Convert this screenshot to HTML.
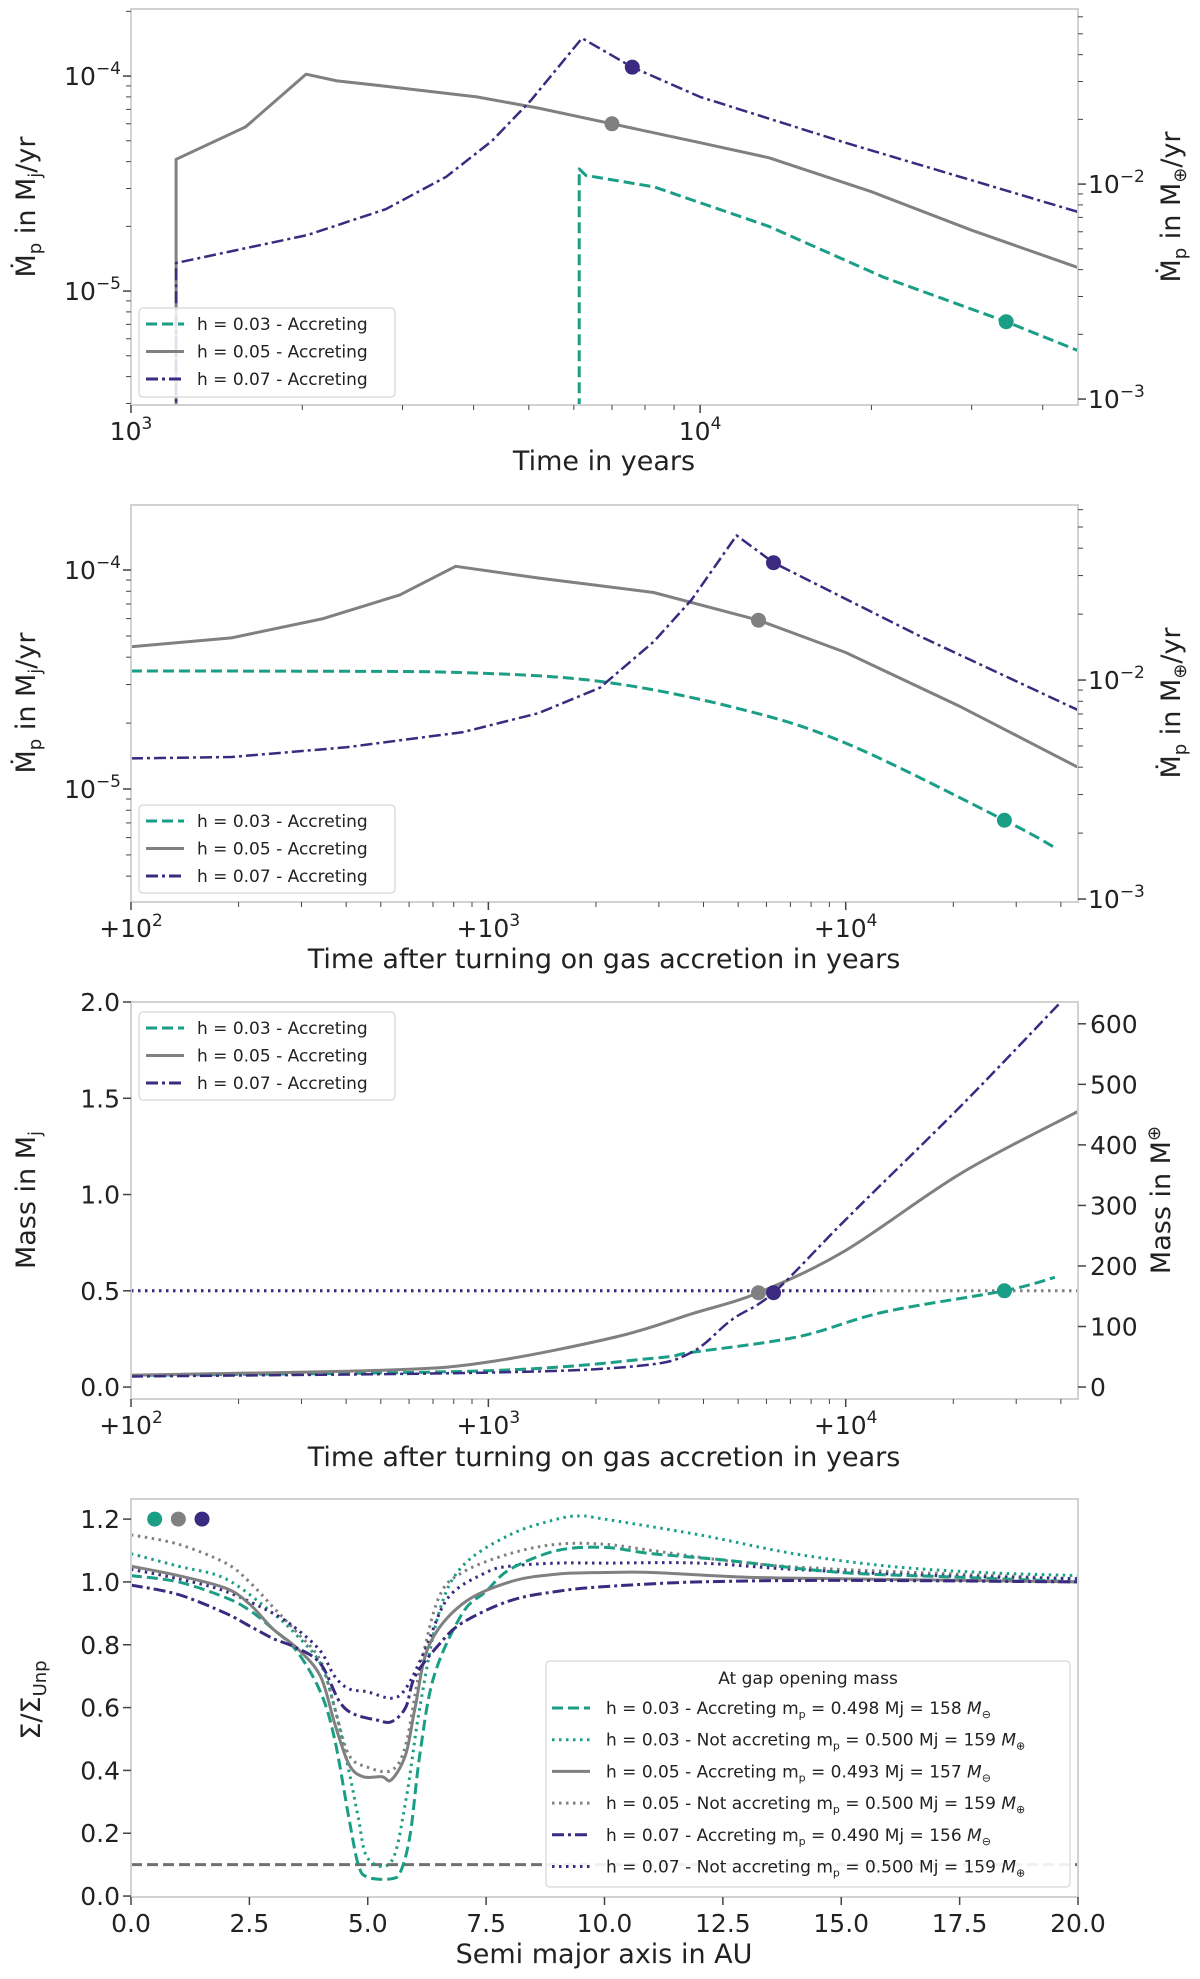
<!DOCTYPE html>
<html><head><meta charset="utf-8"><style>
html,body{margin:0;padding:0;background:#fff}
svg{display:block}
text{font-family:"DejaVu Sans","Liberation Sans",sans-serif;fill:#222}
</style></head><body>
<svg id="fig" width="1200" height="1979" viewBox="0 0 1200 1979" xmlns="http://www.w3.org/2000/svg"></svg>
<script>
const GREEN="#1b9e86", GREY="#808080", BLUE="#3a2b80";
const ME=318;
// ---- Panel 1: absolute time ----
const p1_grey_t=[1200,1200,1590,2030,2300,2800,4050,5200,7000,10000,13200,20000,30000,46000];
const p1_grey_v=[2e-6,4.1e-5,5.8e-5,1.02e-4,9.5e-5,8.97e-5,8.0e-5,7.1e-5,6.0e-5,4.9e-5,4.17e-5,2.9e-5,1.92e-5,1.29e-5];
const p1_blue_t=[1200,1200,2040,2800,3580,4310,5040,6200,7600,10000,18000,46000];
const p1_blue_v=[2e-6,1.35e-5,1.82e-5,2.4e-5,3.4e-5,5.0e-5,7.7e-5,1.5e-4,1.1e-4,8.0e-5,4.9e-5,2.34e-5];
const p1_green_t=[6130,6130,6300,8300,13200,21000,34500,46000];
const p1_green_v=[2e-6,3.7e-5,3.45e-5,3.05e-5,2.0e-5,1.16e-5,7.2e-6,5.3e-6];
const p1_dots_t=[34500,7000,7600];
const p1_dots_v=[7.2e-6,6.0e-5,1.1e-4];
// ---- Panel 2: time after accretion ----
const p2_grey_t=[100,191,345,565,810,1380,2900,5700,10000,21000,44500];
const p2_grey_v=[4.46e-5,4.9e-5,6.0e-5,7.7e-5,1.04e-4,9.2e-5,7.9e-5,5.9e-5,4.2e-5,2.37e-5,1.26e-5];
const p2_green_t=[100,300,850,2050,4800,10000,27800,38500];
const p2_green_v=[3.46e-5,3.45e-5,3.4e-5,3.1e-5,2.37e-5,1.62e-5,7.2e-6,5.4e-6];
const p2_blue_t=[100,191,400,850,1380,2050,2900,3700,4950,6280,16500,44500];
const p2_blue_v=[1.38e-5,1.4e-5,1.55e-5,1.82e-5,2.22e-5,2.9e-5,4.7e-5,7.3e-5,1.44e-4,1.08e-4,4.9e-5,2.3e-5];
const p2_dots_t=[27800,5700,6280];
const p2_dots_v=[7.2e-6,5.9e-5,1.08e-4];
// ---- Panel 3: mass ----
const p3_grey_t=[100,515,1000,2270,3700,5700,10000,21000,44500];
const p3_grey_v=[0.062,0.088,0.13,0.26,0.38,0.49,0.71,1.11,1.43];
const p3_green_t=[100,1000,2900,3700,7300,12800,27800,38500];
const p3_green_v=[0.06,0.085,0.15,0.18,0.26,0.39,0.50,0.57];
const p3_blue_t=[100,1000,2630,3700,4800,6280,10000,21000,40000];
const p3_blue_v=[0.055,0.075,0.11,0.18,0.35,0.49,0.87,1.46,2.0];
const p3_dots_t=[27800,5700,6280];
const p3_dots_v=[0.5,0.49,0.49];
const p3_gap_mass=0.5;
// ---- Panel 4: surface density ----
const p4_green_acc_a=[0,1,2,2.5,3,3.5,4,4.3,4.6,4.8,5.0,5.5,5.7,5.9,6.1,6.4,7,7.5,8,9,10,11,12.5,15,17.5,20];
const p4_green_acc_v=[1.02,1.0,0.95,0.91,0.85,0.78,0.65,0.5,0.25,0.1,0.06,0.055,0.08,0.2,0.45,0.7,0.9,0.97,1.04,1.1,1.11,1.09,1.07,1.03,1.015,1.0];
const p4_green_not_a=[0,1,2,3,3.5,4,4.3,4.6,4.8,5.0,5.5,5.8,6.1,6.5,7,8,9,9.5,10,12,14,16,18,20];
const p4_green_not_v=[1.09,1.05,1.01,0.9,0.83,0.74,0.6,0.4,0.25,0.12,0.11,0.3,0.6,0.9,1.05,1.15,1.2,1.21,1.2,1.15,1.09,1.05,1.03,1.02];
const p4_grey_acc_a=[0,1,2,2.5,3,3.5,4,4.3,4.6,4.9,5.3,5.5,5.8,6,6.3,7,8,9,10,11,13,15,20];
const p4_grey_acc_v=[1.05,1.02,0.98,0.93,0.85,0.79,0.7,0.55,0.42,0.38,0.38,0.37,0.45,0.6,0.8,0.93,1.0,1.025,1.03,1.03,1.015,1.01,1.0];
const p4_grey_not_a=[0,1,2,2.5,3,3.5,4,4.3,4.6,5,5.5,5.8,6.1,6.5,7,8,9,10,11,13,15,20];
const p4_grey_not_v=[1.15,1.12,1.06,1.0,0.92,0.84,0.75,0.6,0.45,0.41,0.4,0.48,0.72,0.95,1.03,1.09,1.12,1.12,1.1,1.06,1.04,1.01];
const p4_blue_acc_a=[0,1,2,2.5,3,3.5,4,4.4,4.7,5.2,5.5,5.8,6,6.5,7,8,9,10,12,15,20];
const p4_blue_acc_v=[0.99,0.96,0.9,0.86,0.82,0.79,0.74,0.62,0.58,0.56,0.555,0.6,0.7,0.8,0.87,0.94,0.97,0.985,1.0,1.005,1.0];
const p4_blue_not_a=[0,1,2,3,3.5,4,4.3,4.6,5,5.5,5.8,6.2,6.7,7.5,8,9,10,12,14,17,20];
const p4_blue_not_v=[1.04,1.01,0.97,0.9,0.85,0.78,0.7,0.66,0.65,0.63,0.66,0.78,0.95,1.03,1.05,1.06,1.06,1.06,1.04,1.02,1.01];
const p4_threshold=0.1;
const p4_legend_labels=[
 ["h = 0.03 - Accreting m","p"," = 0.498 Mj = 158 ","⊖"],
 ["h = 0.03 - Not accreting m","p"," = 0.500 Mj = 159 ","⊕"],
 ["h  = 0.05 - Accreting m","p"," = 0.493 Mj = 157 ","⊖"],
 ["h = 0.05 - Not accreting m","p"," = 0.500 Mj = 159 ","⊕"],
 ["h = 0.07 - Accreting m","p"," = 0.490 Mj = 156 ","⊖"],
 ["h = 0.07 - Not accreting m","p"," = 0.500 Mj = 159 ","⊕"]];
const legend3=["h = 0.03 - Accreting","h  = 0.05 - Accreting","h = 0.07 - Accreting"];

const svg=document.getElementById('fig');
const NS="http://www.w3.org/2000/svg";
function el(tag,attrs,parent){const e=document.createElementNS(NS,tag);for(const k in attrs)e.setAttribute(k,attrs[k]);(parent||svg).appendChild(e);return e;}
const DASH={dash:"11,5",dot:"2.5,4.5",dashdot:"12,4,3,4",solid:""};

function makeAxes(cfg){
  const g=el('g',{});
  
  
  const X=v=>{const t=cfg.xlog?Math.log10(v):v;return cfg.x0+(t-cfg.xr[0])/(cfg.xr[1]-cfg.xr[0])*(cfg.x1-cfg.x0);};
  const Y=v=>{const t=cfg.ylog?Math.log10(v):v;return cfg.y1-(t-cfg.yr[0])/(cfg.yr[1]-cfg.yr[0])*(cfg.y1-cfg.y0);};
  const cid='clip'+cfg.name;
  const cp=el('clipPath',{id:cid},g);el('rect',{x:cfg.x0,y:cfg.y0,width:cfg.x1-cfg.x0,height:cfg.y1-cfg.y0},cp);
  const plot=el('g',{'clip-path':`url(#${cid})`},g);
  return {g,X,Y,plot,cfg};
}
function line(ax,xs,ys,color,style,name,w,smooth){
  const P=xs.map((x,i)=>[ax.X(x),ax.Y(ys[i])]);
  let d='M'+P[0][0].toFixed(1)+','+P[0][1].toFixed(1);
  for(let i=0;i<P.length-1;i++){
    if(!smooth){d+=' L'+P[i+1][0].toFixed(1)+','+P[i+1][1].toFixed(1);continue;}
    const p0=P[Math.max(0,i-1)],p1=P[i],p2=P[i+1],p3=P[Math.min(P.length-1,i+2)];
    const c1=[p1[0]+(p2[0]-p0[0])/6,p1[1]+(p2[1]-p0[1])/6];
    const c2=[p2[0]-(p3[0]-p1[0])/6,p2[1]-(p3[1]-p1[1])/6];
    d+=` C${c1[0].toFixed(1)},${c1[1].toFixed(1)} ${c2[0].toFixed(1)},${c2[1].toFixed(1)} ${p2[0].toFixed(1)},${p2[1].toFixed(1)}`;
  }
  const p=el('path',{d,fill:'none',stroke:color,'stroke-width':w||3,'stroke-dasharray':DASH[style],'stroke-linejoin':'round'},ax.plot);
  
  
}
function dot(ax,x,y,color,name){
  const c=el('circle',{cx:ax.X(x),cy:ax.Y(y),r:7.5,fill:color},ax.plot);
  
  
}
function frame(ax){
  const c=ax.cfg;
  el('rect',{x:c.x0,y:c.y0,width:c.x1-c.x0,height:c.y1-c.y0,fill:'none',stroke:'#d2d2d2','stroke-width':2},ax.g);
}
function tickLabelPow(ax,x,y,base,exp,anchor,prefix){
  const t=el('text',{x,y,'font-size':25,'text-anchor':anchor,'font-family':'Liberation Sans'},ax.g);
  t.textContent=(prefix||'')+base;
  const s=el('tspan',{dy:-11,'font-size':17},t);s.textContent=exp;
  return t;
}
function logXTicks(ax,lo,hi,prefix){
  const c=ax.cfg;
  for(let e=lo;e<=hi;e++){
    for(let m=1;m<10;m++){const v=m*Math.pow(10,e);const px=ax.X(v);if(px<c.x0-0.5||px>c.x1+0.5)continue;
      el('line',{x1:px,x2:px,y1:c.y1,y2:c.y1+(m==1?8:5),stroke:'#444','stroke-width':m==1?1.5:1},ax.g);
      if(m==1){const t=tickLabelPow(ax,px,c.y1+35,'10',String(e).replace('-','−'),'middle',prefix);}
    }
  }
}
function logYTicksLeft(ax,lo,hi){
  const c=ax.cfg;
  for(let e=lo;e<=hi;e++)for(let m=1;m<10;m++){const v=m*Math.pow(10,e);const py=ax.Y(v);if(py<c.y0-0.5||py>c.y1+0.5)continue;
    el('line',{x1:c.x0,x2:c.x0-(m==1?8:5),y1:py,y2:py,stroke:'#444','stroke-width':m==1?1.5:1},ax.g);
    if(m==1){const t=tickLabelPow(ax,c.x0-10,py+9,'10','−'+(-e),'end');}
  }
}
function logYTicksRight(ax,lo,hi){
  const c=ax.cfg;
  for(let e=lo;e<=hi;e++)for(let m=1;m<10;m++){const v=m*Math.pow(10,e)/ME;const py=ax.Y(v);if(py<c.y0-0.5||py>c.y1+0.5)continue;
    el('line',{x1:c.x1,x2:c.x1+(m==1?8:5),y1:py,y2:py,stroke:'#444','stroke-width':m==1?1.5:1},ax.g);
    if(m==1){const t=tickLabelPow(ax,c.x1+10,py+9,'10','−'+(-e),'start');}
  }
}
function label(x,y,rot,html,name,size){
  const t=el('text',{x,y,'font-size':size||27,'text-anchor':'middle',transform:rot?`rotate(-90 ${x} ${y})`:''});
  t.innerHTML=html;
  
  
}
function legend3box(ax,x,y,w,h){
  const g=el('g',{},ax.g);
  
  
  el('rect',{x,y,width:w,height:h,rx:4,fill:'#fff','fill-opacity':0.85,stroke:'#ddd','stroke-width':1.5},g);
  const cols=[GREEN,GREY,BLUE],sty=['dash','solid','dashdot'];
  for(let i=0;i<3;i++){const yy=y+16+i*27.5;
    const l=el('line',{x1:x+7,x2:x+45,y1:yy,y2:yy,stroke:cols[i],'stroke-width':3,'stroke-dasharray':DASH[sty[i]]},g);
    
    const t=el('text',{x:x+58,y:yy+6,'font-size':17},g);t.textContent=legend3[i];
    }
}

// ===== Panel 1 =====
const a1=makeAxes({name:'panel-accretion-rate-time',x0:131,x1:1078,y0:9,y1:405,xlog:true,xr:[3,4.664],ylog:true,yr:[-5.53,-3.688]});
frame(a1);
line(a1,p1_green_t,p1_green_v,GREEN,'dash','line-h003');
line(a1,p1_grey_t,p1_grey_v,GREY,'solid','line-h005');
line(a1,p1_blue_t,p1_blue_v,BLUE,'dashdot','line-h007',2.5);
[GREEN,GREY,BLUE].forEach((c,i)=>dot(a1,p1_dots_t[i],p1_dots_v[i],c,'gap-opening-marker'));
logXTicks(a1,3,4,'');logYTicksLeft(a1,-6,-4);logYTicksRight(a1,-4,-1);
legend3box(a1,139,308,256,89);
label(604,470,false,'Time in years','x-axis-title');
label(35,207,true,'Ṁ<tspan font-size="18" dy="6">p</tspan><tspan dy="-6"> in M</tspan><tspan font-size="18" dy="6">j</tspan><tspan dy="-6">/yr</tspan>','y-axis-title');
label(1180,207,true,'Ṁ<tspan font-size="18" dy="6">p</tspan><tspan dy="-6"> in M</tspan><tspan font-size="18" dy="6">⊕</tspan><tspan dy="-6">/yr</tspan>','right-y-axis-title');

// ===== Panel 2 =====
const a2=makeAxes({name:'panel-accretion-rate-after',x0:131,x1:1078,y0:505,y1:902,xlog:true,xr:[2,4.65],ylog:true,yr:[-5.516,-3.703]});
frame(a2);
line(a2,p2_green_t,p2_green_v,GREEN,'dash','line-h003',3,true);
line(a2,p2_grey_t,p2_grey_v,GREY,'solid','line-h005');
line(a2,p2_blue_t,p2_blue_v,BLUE,'dashdot','line-h007',2.5);
[GREEN,GREY,BLUE].forEach((c,i)=>dot(a2,p2_dots_t[i],p2_dots_v[i],c,'gap-opening-marker'));
logXTicks(a2,2,4,'+');logYTicksLeft(a2,-6,-4);logYTicksRight(a2,-4,-1);
legend3box(a2,139,805,256,88);
label(604,968,false,'Time after turning on gas accretion in years','x-axis-title');
label(35,703,true,'Ṁ<tspan font-size="18" dy="6">p</tspan><tspan dy="-6"> in M</tspan><tspan font-size="18" dy="6">j</tspan><tspan dy="-6">/yr</tspan>','y-axis-title');
label(1180,703,true,'Ṁ<tspan font-size="18" dy="6">p</tspan><tspan dy="-6"> in M</tspan><tspan font-size="18" dy="6">⊕</tspan><tspan dy="-6">/yr</tspan>','right-y-axis-title');

// ===== Panel 3 =====
const a3=makeAxes({name:'panel-mass',x0:131,x1:1078,y0:1002,y1:1399,xlog:true,xr:[2,4.65],ylog:false,yr:[-0.062,2.0]});
frame(a3);
line(a3,[100,44500],[p3_gap_mass,p3_gap_mass],GREY,'dot','gap-mass-line-grey');
line(a3,[100,12000],[p3_gap_mass,p3_gap_mass],BLUE,'dot','gap-mass-line-blue');
line(a3,p3_green_t,p3_green_v,GREEN,'dash','line-h003',3,true);
line(a3,p3_grey_t,p3_grey_v,GREY,'solid','line-h005',3,true);
line(a3,p3_blue_t,p3_blue_v,BLUE,'dashdot','line-h007',2.5,true);
[GREEN,GREY,BLUE].forEach((c,i)=>dot(a3,p3_dots_t[i],p3_dots_v[i],c,'gap-opening-marker'));
logXTicks(a3,2,4,'+');
[0,0.5,1,1.5,2].forEach(v=>{const py=a3.Y(v);el('line',{x1:131,x2:123,y1:py,y2:py,stroke:'#444','stroke-width':1.5},a3.g);
  const t=el('text',{x:120,y:py+9,'font-size':25,'text-anchor':'end','font-family':'Liberation Sans'},a3.g);t.textContent=v.toFixed(1);
  });
[0,100,200,300,400,500,600].forEach(v=>{const py=a3.Y(v/ME);el('line',{x1:1078,x2:1086,y1:py,y2:py,stroke:'#444','stroke-width':1.5},a3.g);
  const t=el('text',{x:1090,y:py+9,'font-size':25,'font-family':'Liberation Sans'},a3.g);t.textContent=v;
  });
legend3box(a3,139,1012,256,88);
label(604,1466,false,'Time after turning on gas accretion in years','x-axis-title');
label(35,1200,true,'Mass in M<tspan font-size="18" dy="6">j</tspan>','y-axis-title');
label(1170,1200,true,'Mass in M<tspan font-size="18" dy="-10">⊕</tspan>','right-y-axis-title');

// ===== Panel 4 =====
const a4=makeAxes({name:'panel-surface-density',x0:131,x1:1078,y0:1499,y1:1897,xlog:false,xr:[0,20],ylog:false,yr:[-0.003,1.264]});
frame(a4);
line(a4,[0,20],[p4_threshold,p4_threshold],'#707070','dash','threshold-line');
line(a4,p4_green_not_a,p4_green_not_v,GREEN,'dot','line-h003-not-accreting',3,true);
line(a4,p4_grey_not_a,p4_grey_not_v,GREY,'dot','line-h005-not-accreting',3,true);
line(a4,p4_blue_not_a,p4_blue_not_v,BLUE,'dot','line-h007-not-accreting',3,true);
line(a4,p4_green_acc_a,p4_green_acc_v,GREEN,'dash','line-h003-accreting',3,true);
line(a4,p4_grey_acc_a,p4_grey_acc_v,GREY,'solid','line-h005-accreting',3,true);
line(a4,p4_blue_acc_a,p4_blue_acc_v,BLUE,'dashdot','line-h007-accreting',3,true);
[GREEN,GREY,BLUE].forEach((c,i)=>dot(a4,0.5+0.5*i,1.2,c,'marker-key'));
for(let v=0;v<=20;v+=2.5){const px=a4.X(v);el('line',{x1:px,x2:px,y1:1897,y2:1905,stroke:'#444','stroke-width':1.5},a4.g);
  const t=el('text',{x:px,y:1932,'font-size':25,'text-anchor':'middle','font-family':'Liberation Sans'},a4.g);t.textContent=v.toFixed(1);
  }
for(let i=0;i<=6;i++){const v=i*0.2;const py=a4.Y(v);el('line',{x1:131,x2:123,y1:py,y2:py,stroke:'#444','stroke-width':1.5},a4.g);
  const t=el('text',{x:120,y:py+9,'font-size':25,'text-anchor':'end','font-family':'Liberation Sans'},a4.g);t.textContent=v.toFixed(1);
  }
(function(){
  const g=el('g',{},a4.g);
  
  
  el('rect',{x:546,y:1661,width:524,height:226,rx:4,fill:'#fff','fill-opacity':0.9,stroke:'#ddd','stroke-width':1.5},g);
  const tt=el('text',{x:808,y:1684,'font-size':17,'text-anchor':'middle'},g);tt.textContent='At gap opening mass';
  
  const cols=[GREEN,GREEN,GREY,GREY,BLUE,BLUE],sty=['dash','dot','solid','dot','dashdot','dot'];
  for(let i=0;i<6;i++){const yy=1708+i*31.7;
    const l=el('line',{x1:552,x2:590,y1:yy,y2:yy,stroke:cols[i],'stroke-width':3,'stroke-dasharray':DASH[sty[i]]},g);
    
    const L=p4_legend_labels[i];
    const t=el('text',{x:606,y:yy+6,'font-size':17},g);
    
    const s1=el('tspan',{},t);s1.textContent=L[0];
    const s2=el('tspan',{'font-size':11,dy:4},t);s2.textContent=L[1];
    const s3=el('tspan',{dy:-4},t);s3.textContent=L[2];
    const s4=el('tspan',{'font-style':'italic'},t);s4.textContent='M';
    const s5=el('tspan',{'font-size':11,dy:4},t);s5.textContent=L[3];
  }
})();
label(604,1963,false,'Semi major axis in AU','x-axis-title');
label(40,1700,true,'Σ/Σ<tspan font-size="18" dy="6">Unp</tspan>','y-axis-title');
</script>
</body></html>
